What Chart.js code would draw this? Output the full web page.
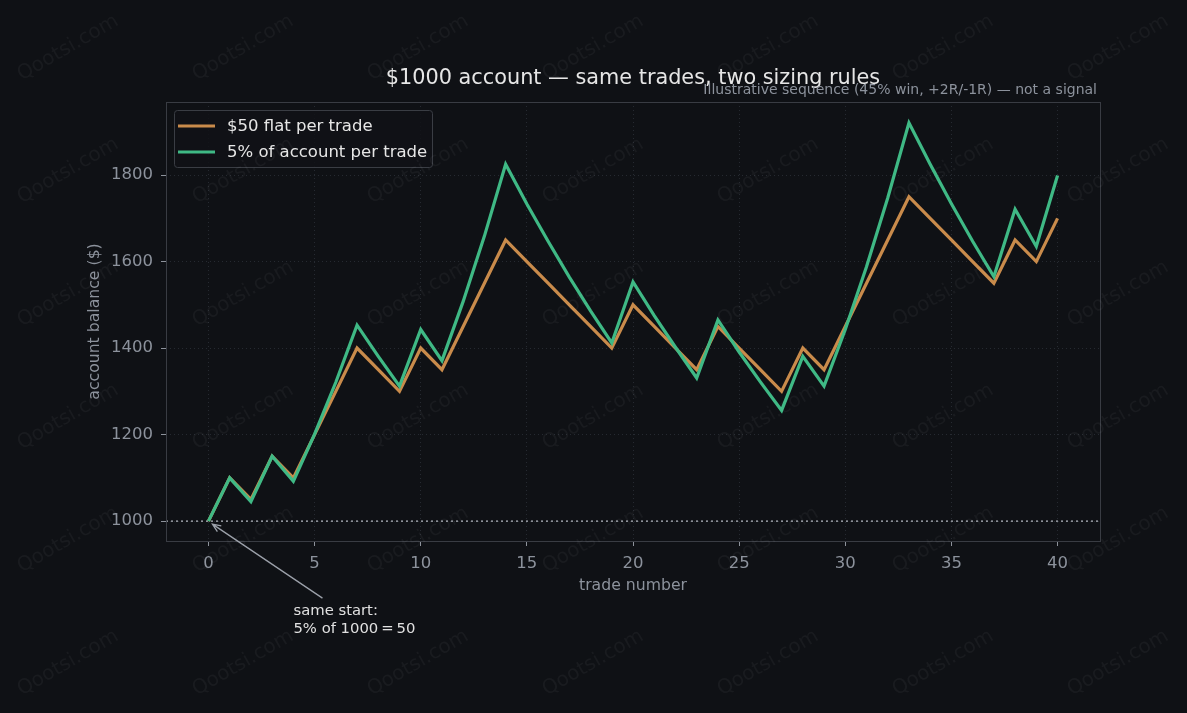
<!DOCTYPE html>
<html>
<head>
<meta charset="utf-8">
<script src="https://cdn.jsdelivr.net/npm/chart.js@4.4.1/dist/chart.umd.min.js"></script>
<style>
    html, body { margin: 0; padding: 0; background: #0f1115; }
    #chart { display: block; }
</style>
</head>
<body>
<canvas id="chart" width="1187" height="713"></canvas>
<script>
// trade index 0..40
const trades = [0, 1, 2, 3, 4, 5, 6, 7, 8, 9, 10, 11, 12, 13, 14, 15, 16, 17, 18, 19, 20,
    21, 22, 23, 24, 25, 26, 27, 28, 29, 30, 31, 32, 33, 34, 35, 36, 37, 38, 39, 40];

// $50 flat per trade
const flatBalance = [1000, 1100, 1050, 1150, 1100, 1200, 1300, 1400, 1350, 1300, 1400,
    1350, 1450, 1550, 1650, 1600, 1550, 1500, 1450, 1400, 1500,
    1450, 1400, 1350, 1450, 1400, 1350, 1300, 1400, 1350, 1450,
    1550, 1650, 1750, 1700, 1650, 1600, 1550, 1650, 1600, 1700];

// 5% of account per trade
const pctBalance = [1000, 1100, 1045, 1150, 1092, 1201, 1321, 1453, 1381, 1312, 1443,
    1371, 1508, 1659, 1825, 1733, 1647, 1564, 1486, 1412, 1553,
    1475, 1402, 1331, 1465, 1391, 1322, 1256, 1381, 1312, 1443,
    1588, 1747, 1921, 1825, 1734, 1647, 1565, 1721, 1635, 1799];

const seriesLabels = ['$50 flat per trade', '5% of account per trade'];
const seriesColors = ['#c98b4b', '#3fb985'];

const xTicks = [0, 5, 10, 15, 20, 25, 30, 35, 40];
const yTicks = [1000, 1200, 1400, 1600, 1800];
const startBalance = 1000;

const titleText = '$1000 account \u2014 same trades, two sizing rules';
const subtitleText = 'Illustrative sequence (45% win, +2R/-1R) \u2014 not a signal';

const FONT = "'DejaVu Sans', sans-serif";
const BG = '#0f1115';
const MUTED = '#8c929c';

Chart.defaults.font.family = FONT;

const toPoints = (xs, ys) => xs.map((x, i) => ({ x: x, y: ys[i] }));

const decorPlugin = {
    id: 'decor',
    beforeDraw(chart) {
        const ctx = chart.ctx;
        ctx.save();
        ctx.fillStyle = BG;
        ctx.fillRect(0, 0, chart.width, chart.height);
        ctx.restore();
    },
    afterDraw(chart) {
        const ctx = chart.ctx;
        const area = chart.chartArea;
        const xs = chart.scales.x;
        const ys = chart.scales.y;

        // plot frame
        ctx.save();
        ctx.strokeStyle = '#393c43';
        ctx.lineWidth = 1;
        ctx.strokeRect(area.left + 0.5, area.top + 0.5, area.right - area.left, area.bottom - area.top);
        ctx.restore();

        // titles
        ctx.save();
        ctx.fillStyle = '#e6e6e6';
        ctx.font = '20.8px ' + FONT;
        ctx.textAlign = 'center';
        ctx.textBaseline = 'middle';
        ctx.fillText(titleText, (area.left + area.right) / 2, 79);
        ctx.fillStyle = MUTED;
        ctx.font = '14px ' + FONT;
        ctx.textAlign = 'right';
        ctx.fillText(subtitleText, area.right - 3, 90);
        ctx.restore();

        // axis titles
        ctx.save();
        ctx.fillStyle = MUTED;
        ctx.font = '15.7px ' + FONT;
        ctx.textAlign = 'center';
        ctx.textBaseline = 'middle';
        ctx.fillText('trade number', (area.left + area.right) / 2, 586);
        ctx.translate(95, (area.top + area.bottom) / 2);
        ctx.rotate(-Math.PI / 2);
        ctx.fillText('account balance ($)', 0, 0);
        ctx.restore();

        // legend
        ctx.save();
        const lx = 174, ly = 110, lw = 258, lh = 57;
        ctx.fillStyle = 'rgba(16,18,22,0.85)';
        ctx.strokeStyle = '#3a3d44';
        ctx.lineWidth = 1;
        ctx.beginPath();
        ctx.roundRect(lx + 0.5, ly + 0.5, lw, lh, 3);
        ctx.fill();
        ctx.stroke();
        ctx.font = '16.5px ' + FONT;
        ctx.textBaseline = 'middle';
        seriesLabels.forEach((label, i) => {
            const y = ly + 16 + i * 26;
            ctx.strokeStyle = seriesColors[i];
            ctx.lineWidth = 3.2;
            ctx.beginPath();
            ctx.moveTo(178, y);
            ctx.lineTo(215, y);
            ctx.stroke();
            ctx.fillStyle = '#e6e6e6';
            ctx.fillText(label, 227, y + 1);
        });
        ctx.restore();

        // annotation
        const px = xs.getPixelForValue(0);
        const py = ys.getPixelForValue(startBalance);
        const hx = px + 4, hy = py + 3;
        const tx = px + 114, ty = py + 77;
        ctx.save();
        ctx.strokeStyle = '#9ca1aa';
        ctx.lineWidth = 1.3;
        ctx.beginPath();
        ctx.moveTo(tx, ty);
        ctx.lineTo(hx, hy);
        const ang = Math.atan2(ty - hy, tx - hx);
        ctx.moveTo(hx + 9 * Math.cos(ang - 0.4), hy + 9 * Math.sin(ang - 0.4));
        ctx.lineTo(hx, hy);
        ctx.lineTo(hx + 9 * Math.cos(ang + 0.4), hy + 9 * Math.sin(ang + 0.4));
        ctx.stroke();
        ctx.fillStyle = '#e0e0e0';
        ctx.font = '14.8px ' + FONT;
        ctx.textAlign = 'left';
        ctx.textBaseline = 'middle';
        ctx.fillText('same start:', px + 85, py + 90);
        ctx.fillText('5% of 1000\u2009=\u200950', px + 85, py + 108);
        ctx.restore();

        // watermark
        ctx.save();
        ctx.fillStyle = 'rgba(255,255,255,0.045)';
        ctx.font = '20px ' + FONT;
        ctx.textAlign = 'center';
        ctx.textBaseline = 'middle';
        for (let c = 0; c < 7; c++) {
            for (let r = 0; r < 6; r++) {
                ctx.save();
                ctx.translate(68 + c * 175, 48 + r * 123);
                ctx.rotate(-Math.PI / 6);
                ctx.fillText('Qootsi.com', 0, 0);
                ctx.restore();
            }
        }
        ctx.restore();
    }
};

new Chart(document.getElementById('chart'), {
    type: 'line',
    data: {
        datasets: [
            {
                label: seriesLabels[0],
                data: toPoints(trades, flatBalance),
                borderColor: seriesColors[0],
                borderWidth: 3.2,
                pointRadius: 0,
                tension: 0,
                order: 2
            },
            {
                label: seriesLabels[1],
                data: toPoints(trades, pctBalance),
                borderColor: seriesColors[1],
                borderWidth: 3.2,
                pointRadius: 0,
                tension: 0,
                order: 1
            },
            {
                label: 'start',
                data: [{ x: -2, y: startBalance }, { x: 42, y: startBalance }],
                borderColor: '#b4b8c0',
                borderWidth: 1.3,
                borderDash: [2, 3],
                pointRadius: 0,
                order: 3
            }
        ]
    },
    options: {
        responsive: false,
        animation: false,
        layout: { padding: { top: 102, right: 87, bottom: 0, left: 0 } },
        plugins: {
            legend: { display: false },
            tooltip: { enabled: false }
        },
        scales: {
            x: {
                type: 'linear',
                min: -2,
                max: 42,
                afterBuildTicks: s => { s.ticks = xTicks.map(v => ({ value: v })); },
                afterFit: s => { s.height = 172; },
                grid: { color: '#262a31', tickColor: '#8d929b', tickLength: 5, tickBorderDash: [] },
                border: { display: false, dash: [1, 3] },
                ticks: { color: MUTED, font: { size: 16.5 }, padding: 8, maxRotation: 0, callback: v => String(v) }
            },
            y: {
                min: 954,
                max: 1969,
                afterBuildTicks: s => { s.ticks = yTicks.map(v => ({ value: v })); },
                afterFit: s => { s.width = 166; },
                grid: { color: '#262a31', tickColor: '#8d929b', tickLength: 5, tickBorderDash: [] },
                border: { display: false, dash: [1, 3] },
                ticks: { color: MUTED, font: { size: 16.5 }, padding: 8, callback: v => String(v) }
            }
        }
    },
    plugins: [decorPlugin]
});
</script>
</body>
</html>
